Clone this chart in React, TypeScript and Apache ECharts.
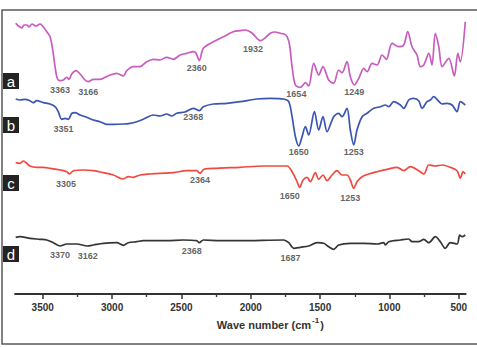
import React, { useEffect, useRef } from "react";
import * as echarts from "echarts";

// FTIR spectra: [wave number (cm-1), transmittance (a.u., offset per trace)]
const traceA: [number, number][] = [
  [3695, 270.7], [3676, 268], [3651, 266], [3635, 269], [3615, 269], [3599, 267], [3577, 270],
  [3548, 268], [3520, 270], [3507, 269], [3471, 262.3], [3447, 257.3], [3428, 244], [3411, 227.3],
  [3395, 215.7], [3375, 213.3], [3351, 214], [3327, 216.7], [3310, 214.7], [3291, 220], [3260, 223.3],
  [3231, 220], [3195, 214], [3171, 212.3], [3135, 214.7], [3087, 214.7], [3015, 219], [2966, 220.7],
  [2919, 218], [2894, 223.3], [2847, 227.3], [2798, 227.3], [2750, 232.3], [2702, 234.7], [2654, 234],
  [2606, 236.7], [2558, 234.7], [2510, 239], [2462, 240.7], [2414, 242.3], [2395, 241], [2371, 233.3],
  [2342, 245.7], [2270, 252.3], [2173, 259], [2126, 262.3], [2077, 263.3], [2041, 264], [1991, 261],
  [1931, 253.3], [1897, 256], [1859, 260.7], [1825, 262], [1787, 260.7], [1760, 260], [1738, 257.3],
  [1720, 249], [1702, 227.3], [1678, 209], [1642, 206.7], [1606, 211.3], [1582, 208], [1546, 230.7],
  [1510, 219], [1479, 227.3], [1438, 214], [1402, 210.7], [1366, 224], [1342, 221.3], [1306, 232.3],
  [1282, 217.3], [1253, 209], [1221, 215.7], [1185, 225.7], [1161, 222.3], [1125, 230.7], [1089, 229],
  [1053, 239], [1022, 234.7], [981, 250.7], [933, 247.3], [897, 249], [868, 262.3], [837, 247.3],
  [801, 239], [777, 227.3], [752, 229], [716, 240.7], [693, 229], [669, 260.7], [644, 247.3],
  [620, 227.3], [572, 235.7], [532, 218], [507, 240.7], [489, 232.3], [453, 272.3],
];

const traceB: [number, number][] = [
  [3695, 195], [3664, 194], [3628, 194.7], [3592, 193.3], [3568, 191.3], [3543, 193.3], [3496, 191.3],
  [3447, 190], [3411, 187.3], [3388, 182.3], [3363, 174.7], [3339, 175.7], [3315, 174.7], [3291, 180.7],
  [3267, 181.3], [3231, 179], [3183, 176.7], [3135, 174], [3087, 172.3], [3039, 169.7], [2991, 169.7],
  [2919, 170], [2870, 170.7], [2822, 172.3], [2775, 174.7], [2702, 179], [2654, 178], [2606, 180],
  [2570, 178], [2534, 180.7], [2474, 182], [2414, 185.7], [2371, 183.3], [2342, 187.3], [2270, 190],
  [2173, 190.7], [2077, 192.3], [1955, 195], [1859, 195.7], [1762, 195], [1726, 192.3], [1702, 177.3],
  [1678, 157.3], [1654, 148], [1630, 157.3], [1606, 167.3], [1582, 159], [1541, 182.3], [1510, 164],
  [1479, 177.3], [1450, 162.3], [1402, 177.3], [1366, 180.7], [1342, 177.3], [1306, 185.7], [1282, 164],
  [1257, 149], [1234, 164], [1197, 177.3], [1161, 180.7], [1113, 185.7], [1065, 187.3], [1029, 189],
  [1005, 187.3], [969, 192.3], [921, 189], [897, 185.7], [861, 194], [825, 195.7], [789, 193.3],
  [765, 185.7], [729, 192.3], [705, 194], [680, 197.3], [657, 194.7], [620, 190], [584, 190.7],
  [548, 189], [512, 182.3], [489, 192.3], [453, 189],
];

const traceC: [number, number][] = [
  [3695, 131.3], [3664, 130.7], [3640, 133], [3620, 131.3], [3592, 128], [3543, 126.7], [3496, 126.7],
  [3447, 125.7], [3375, 124], [3327, 122.3], [3308, 120], [3279, 123.3], [3207, 124], [3135, 123.3],
  [3063, 121.3], [2991, 119], [2923, 115], [2883, 117.3], [2847, 116.7], [2798, 119], [2726, 120],
  [2654, 120.7], [2558, 121.3], [2462, 123.3], [2390, 123.3], [2366, 120.7], [2337, 124.7], [2245, 125.7],
  [2077, 126.7], [1906, 128], [1738, 128], [1702, 122.3], [1671, 114], [1647, 106.7], [1623, 114],
  [1594, 116.7], [1570, 112.3], [1534, 121.3], [1510, 114.7], [1479, 119], [1450, 113.3], [1414, 119],
  [1378, 123.3], [1342, 119], [1306, 119], [1282, 114], [1257, 105.7], [1234, 112.3], [1197, 117.3],
  [1149, 120], [1089, 122.3], [1017, 124.7], [945, 126.7], [897, 123.3], [849, 127.3], [789, 123.3],
  [752, 120], [716, 129], [669, 128], [620, 129], [561, 126.7], [512, 123.3], [489, 115.7],
  [469, 122.3], [453, 120],
];

const traceD: [number, number][] = [
  [3695, 56.7], [3664, 57.3], [3592, 55.7], [3520, 54.7], [3471, 54], [3424, 51.3], [3375, 48],
  [3327, 50], [3255, 50], [3178, 48], [3135, 49], [3063, 50.7], [2966, 51.3], [2919, 48.7],
  [2883, 51.3], [2822, 52.3], [2775, 53.3], [2702, 53.3], [2606, 53.3], [2486, 54], [2390, 53.3],
  [2371, 51.3], [2342, 54], [2221, 53.3], [2077, 53.3], [1762, 54], [1726, 51.3], [1690, 45.7],
  [1642, 46.7], [1582, 48], [1522, 51.3], [1474, 50.7], [1438, 47.3], [1402, 44.7], [1366, 49],
  [1282, 50.7], [1185, 50.7], [1089, 50], [1041, 51.3], [1029, 49], [1005, 52.3], [921, 54],
  [861, 55], [837, 52.3], [789, 52.3], [752, 54.7], [716, 51.3], [669, 57.3], [633, 52.3],
  [597, 45.7], [561, 51.3], [512, 50], [493, 59], [476, 57.3], [453, 59],
];

// Peak annotations: [label, wave number position, transmittance position]
const peaksA: [string, number, number][] = [
  ["3363", 3375, 204], ["3166", 3171, 202], ["2360", 2389, 226], ["1932", 1983, 245],
  ["1654", 1671, 200], ["1249", 1253, 202],
];
const peaksB: [string, number, number][] = [
  ["3351", 3351, 165], ["2368", 2414, 177], ["1650", 1654, 142], ["1253", 1257, 142],
];
const peaksC: [string, number, number][] = [
  ["3305", 3332, 110], ["2364", 2366, 114], ["1650", 1719, 98], ["1253", 1282, 96],
];
const peaksD: [string, number, number][] = [
  ["3370", 3375, 39], ["3162", 3176, 38], ["2368", 2426, 43], ["1687", 1714, 36],
];

const traceNames = ["a", "b", "c", "d"];
const traceColors = ["#c95cbf", "#3b55b3", "#ef4a40", "#353535"];
const majorTicks = [3500, 3000, 2500, 2000, 1500, 1000, 500];
const minorTicks = [3250, 2750, 2250, 1750, 1250, 750];

export default function App() {
  const ref = useRef<HTMLDivElement>(null);
  useEffect(() => {
    if (!ref.current) return;
    const chart = echarts.init(ref.current, undefined, { renderer: "svg" });
    const traces = [traceA, traceB, traceC, traceD];
    const peaks = [peaksA, peaksB, peaksC, peaksD];

    const lineSeries = traces.map((t, i) => ({
      name: traceNames[i],
      type: "line",
      data: t,
      showSymbol: false,
      smooth: 0.3,
      lineStyle: { color: traceColors[i], width: 1.7 },
      itemStyle: { color: traceColors[i] },
      silent: true,
      z: 2,
    }));
    const peakSeries = peaks.map((p, i) => ({
      name: traceNames[i] + "-peaks",
      type: "scatter",
      symbolSize: 0,
      data: p.map(([label, x, y]) => ({ name: label, value: [x, y] })),
      label: {
        show: true,
        formatter: "{b}",
        position: "inside",
        fontFamily: "Liberation Sans, Arial, sans-serif",
        fontSize: 9,
        fontWeight: "bold",
        color: "#3a3a3a",
      },
      silent: true,
      z: 3,
    }));

    const boxTops = [73, 117, 175, 246];
    const graphics: any[] = [
      {
        type: "rect",
        shape: { x: 2, y: 10, width: 490, height: 334 },
        style: { fill: "none", stroke: "#5a5a5a", lineWidth: 1.5 },
        silent: true,
      },
    ];
    traceNames.forEach((n, i) => {
      graphics.push({
        type: "group",
        left: 3,
        top: boxTops[i],
        children: [
          { type: "rect", shape: { x: 0, y: 0, width: 16, height: 16 }, style: { fill: "#232323" } },
          {
            type: "text",
            x: 8,
            y: 8,
            style: {
              text: n,
              fill: "#ffffff",
              font: "15px 'Liberation Sans', Arial, sans-serif",
              align: "center",
              verticalAlign: "middle",
            },
          },
        ],
      });
    });

    chart.setOption({
      animation: false,
      backgroundColor: "#ffffff",
      grid: { left: 15, right: 11.3, top: 10, bottom: 53, containLabel: false },
      xAxis: [
        {
          type: "value",
          min: 450,
          max: 3700,
          inverse: true,
          position: "bottom",
          name: "{t|Wave number (cm}{s|-1}{t|)}",
          nameLocation: "middle",
          nameGap: 17,
          nameTextStyle: {
            padding: [0, 0, 0, 60],
            rich: {
              t: { fontFamily: "Liberation Sans, Arial, sans-serif", fontSize: 11, fontWeight: "bold", color: "#333", verticalAlign: "bottom", lineHeight: 14 },
              s: { fontFamily: "Liberation Sans, Arial, sans-serif", fontSize: 8, fontWeight: "bold", color: "#333", verticalAlign: "top", lineHeight: 14, padding: [0, 1, 6, 1] },
            },
          },
          axisLine: { show: true, lineStyle: { color: "#333", width: 1.8 } },
          axisTick: { show: true, customValues: majorTicks, length: 5, lineStyle: { color: "#333", width: 1.5 } },
          axisLabel: {
            show: true,
            customValues: majorTicks,
            formatter: (v: number) => String(v),
            margin: 8,
            fontFamily: "Liberation Sans, Arial, sans-serif",
            fontSize: 10,
            fontWeight: "bold",
            color: "#333",
          },
          splitLine: { show: false },
        },
        {
          type: "value",
          min: 450,
          max: 3700,
          inverse: true,
          position: "bottom",
          axisLine: { show: false },
          axisTick: { show: true, customValues: minorTicks, length: 3, lineStyle: { color: "#333", width: 1.3 } },
          axisLabel: { show: false },
          splitLine: { show: false },
        },
      ],
      yAxis: { type: "value", min: 0, max: 284, show: false },
      series: [...lineSeries, ...peakSeries],
      graphic: graphics,
    });
    return () => chart.dispose();
  }, []);
  return (
    <div
      ref={ref}
      style={{ position: "fixed", left: 0, top: 0, width: 477, height: 347, background: "#fff" }}
    />
  );
}
